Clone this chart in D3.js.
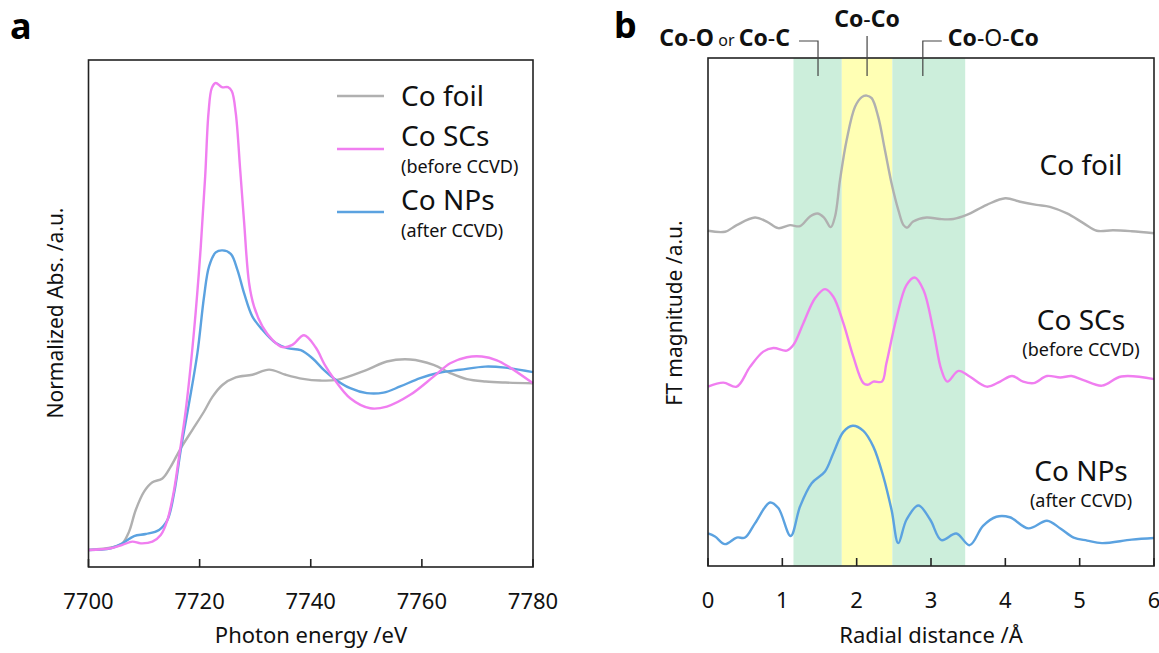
<!DOCTYPE html>
<html>
<head>
<meta charset="utf-8">
<script src="https://cdn.jsdelivr.net/npm/d3@7"></script>
<style>
  body { margin: 0; background: #fff; }
  svg { font-family: "Noto Sans", sans-serif; }
</style>
</head>
<body>
<script>
// ---- panel a : XANES (energy eV, normalized absorption) ----
const foilXanes = [
  [7700, 0.0], [7704.3, 0.016], [7706.1, 0.039], [7707.3, 0.108], [7708.5, 0.235],
  [7710.0, 0.343], [7711.5, 0.398], [7713.3, 0.42], [7714.8, 0.49], [7716.6, 0.598],
  [7718.7, 0.706], [7720.8, 0.814], [7722.3, 0.90], [7724.1, 0.97], [7726.5, 1.014],
  [7729.5, 1.03], [7732.5, 1.06], [7735.5, 1.03], [7738.6, 1.006], [7741.7, 0.996],
  [7744.7, 1.0], [7750.1, 1.059], [7753.7, 1.108], [7757.9, 1.12], [7762.1, 1.088],
  [7765.1, 1.04], [7768.1, 1.004], [7771.5, 0.99], [7775, 0.984], [7780, 0.98]
];
const scXanes = [
  [7700, 0.0], [7704, 0.01], [7706.1, 0.03], [7707.9, 0.049], [7709.4, 0.039],
  [7711.5, 0.049], [7713.0, 0.088], [7714.2, 0.176], [7715.4, 0.353], [7716.3, 0.549],
  [7717.5, 0.82], [7719.0, 1.29], [7720.2, 1.78], [7721.0, 2.196], [7721.6, 2.569],
  [7722.2, 2.716], [7722.9, 2.745], [7724.0, 2.72], [7725.1, 2.72], [7725.8, 2.696],
  [7726.5, 2.569], [7727.3, 2.235], [7728.0, 1.93], [7728.9, 1.569], [7729.8, 1.43],
  [7731.3, 1.314], [7733.1, 1.235], [7734.9, 1.192], [7736.7, 1.206], [7738.8, 1.262],
  [7740.9, 1.19], [7742.5, 1.09], [7744.1, 1.01], [7747.1, 0.892], [7750.7, 0.833],
  [7753.7, 0.843], [7757.9, 0.912], [7762.1, 1.019], [7765.1, 1.098], [7768.1, 1.133],
  [7770.8, 1.137], [7773.5, 1.115], [7775.6, 1.078], [7780, 0.98]
];
const npXanes = [
  [7700, 0.0], [7704, 0.01], [7706.1, 0.039], [7708.2, 0.082], [7710.3, 0.094],
  [7712.7, 0.118], [7714.2, 0.176], [7715.4, 0.333], [7716.6, 0.588], [7718.1, 0.863],
  [7719.6, 1.157], [7720.8, 1.49], [7721.7, 1.667], [7722.9, 1.749], [7724.1, 1.761],
  [7725.6, 1.741], [7726.8, 1.647], [7728.0, 1.51], [7729.5, 1.372], [7731.3, 1.294],
  [7733.7, 1.216], [7735.8, 1.186], [7738.2, 1.175], [7740.3, 1.127], [7742.3, 1.06],
  [7744.1, 1.01], [7747.1, 0.951], [7750.1, 0.922], [7753.1, 0.925], [7756.1, 0.961],
  [7759.7, 1.01], [7763.3, 1.043], [7766.9, 1.059], [7771.4, 1.078], [7775, 1.072],
  [7780, 1.045]
];
const xanesTicks = [7700, 7720, 7740, 7760, 7780];
const legendNames = ["Co foil", "Co SCs", "Co NPs"];
const legendNotes = ["", "(before CCVD)", "(after CCVD)"];

// ---- panel b : FT-EXAFS (radial distance A, stacked magnitude) ----
const foilFt = [
  [0, 6.60], [0.23, 6.58], [0.386, 6.71], [0.632, 6.86], [0.79, 6.78], [0.946, 6.65],
  [1.103, 6.71], [1.238, 6.69], [1.372, 6.88], [1.471, 6.94], [1.561, 6.86], [1.651, 6.67],
  [1.709, 6.88], [1.776, 7.60], [1.866, 8.39], [1.978, 9.04], [2.068, 9.23], [2.135, 9.26],
  [2.202, 9.21], [2.29, 8.84], [2.38, 8.19], [2.47, 7.53], [2.56, 7.01], [2.63, 6.71],
  [2.68, 6.66], [2.76, 6.78], [2.94, 6.86], [3.12, 6.83], [3.30, 6.83], [3.48, 6.91],
  [3.75, 7.11], [4.0, 7.24], [4.2, 7.17], [4.42, 7.11], [4.6, 7.07], [4.83, 6.94],
  [5.05, 6.75], [5.23, 6.60], [5.45, 6.61], [5.7, 6.59], [6.0, 6.55]
];
const scFt = [
  [0, 3.53], [0.206, 3.61], [0.386, 3.53], [0.565, 3.92], [0.744, 4.22], [0.879, 4.29],
  [1.059, 4.24], [1.148, 4.35], [1.283, 4.78], [1.44, 5.27], [1.574, 5.45], [1.686, 5.30],
  [1.821, 4.78], [1.955, 4.12], [2.09, 3.60], [2.157, 3.57], [2.224, 3.63], [2.34, 3.63],
  [2.40, 3.99], [2.54, 4.91], [2.67, 5.53], [2.78, 5.68], [2.90, 5.43], [3.03, 4.65],
  [3.14, 3.86], [3.22, 3.63], [3.37, 3.84], [3.52, 3.73], [3.75, 3.53], [3.93, 3.63],
  [4.09, 3.74], [4.24, 3.63], [4.38, 3.60], [4.56, 3.74], [4.74, 3.71], [4.89, 3.74],
  [5.05, 3.66], [5.3, 3.55], [5.56, 3.73], [6.0, 3.68]
];
const npFt = [
  [0, 0.64], [0.094, 0.58], [0.229, 0.43], [0.386, 0.56], [0.498, 0.56], [0.632, 0.84],
  [0.834, 1.25], [0.946, 1.14], [1.112, 0.59], [1.238, 1.17], [1.395, 1.63], [1.574, 1.86],
  [1.686, 2.22], [1.821, 2.64], [1.947, 2.76], [2.09, 2.66], [2.224, 2.35], [2.359, 1.76],
  [2.47, 1.10], [2.56, 0.45], [2.67, 0.91], [2.83, 1.19], [2.99, 0.91], [3.14, 0.51],
  [3.34, 0.64], [3.52, 0.41], [3.70, 0.79], [3.88, 0.97], [4.06, 0.96], [4.31, 0.74],
  [4.56, 0.89], [4.74, 0.74], [4.92, 0.56], [5.10, 0.50], [5.30, 0.45], [5.7, 0.52],
  [6.0, 0.55]
];
const ftTicks = [0, 1, 2, 3, 4, 5, 6];
const bandEdges = [1.15, 1.8, 2.48, 3.46];
const bandColors = ["#cceedb", "#ffffb4", "#cceedb"];
const ftLabels = [
  { name: "Co foil", note: "", y: 175 },
  { name: "Co SCs", note: "(before CCVD)", y: 330 },
  { name: "Co NPs", note: "(after CCVD)", y: 481 }
];

const colors = ["#b0b0b0", "#f07ef0", "#5ba2e0"];

const width = 1159, height = 653;
const svg = d3.select("body").append("svg")
  .attr("width", width)
  .attr("height", height);

function drawFrame(g, x, y, ticks) {
  const [x0, x1] = x.range();
  const [y0, y1] = y.range();
  g.append("rect")
    .attr("x", x0).attr("y", y1)
    .attr("width", x1 - x0).attr("height", y0 - y1)
    .attr("fill", "none").attr("stroke", "#222").attr("stroke-width", 1.6);
  g.selectAll(".tick")
    .data(ticks)
    .enter().append("line")
    .attr("x1", d => x(d)).attr("x2", d => x(d))
    .attr("y1", y0).attr("y2", y0 - 8)
    .attr("stroke", "#222").attr("stroke-width", 1.6);
  g.selectAll(".ticklabel")
    .data(ticks)
    .enter().append("text")
    .attr("x", d => x(d)).attr("y", y0 + 42)
    .attr("text-anchor", "middle")
    .attr("font-size", 22)
    .attr("fill", "#111")
    .text(d => d);
}

const line = (x, y) => d3.line()
  .x(d => x(d[0])).y(d => y(d[1]))
  .curve(d3.curveCatmullRom.alpha(0.5));

// ================= panel a =================
const xA = d3.scaleLinear().domain([7700, 7780]).range([88.5, 533]);
const yA = d3.scaleLinear().domain([-0.1, 2.88]).range([567, 60]);
const gA = svg.append("g");

[foilXanes, npXanes, scXanes].forEach((s, i) => {
  const c = [colors[0], colors[2], colors[1]][i];
  gA.append("path").datum(s)
    .attr("d", line(xA, yA))
    .attr("fill", "none").attr("stroke", c).attr("stroke-width", 2.4);
});
drawFrame(gA, xA, yA, xanesTicks);

gA.append("text").attr("x", 311).attr("y", 643)
  .attr("text-anchor", "middle").attr("font-size", 22).attr("fill", "#111")
  .text("Photon energy /eV");
gA.append("text")
  .attr("transform", "translate(63,313) rotate(-90)")
  .attr("text-anchor", "middle").attr("font-size", 21).attr("fill", "#111")
  .text("Normalized Abs. /a.u.");
gA.append("text").attr("x", 10).attr("y", 39)
  .attr("font-size", 36).attr("font-weight", "bold").text("a");

// legend: swatch line, name, optional note underneath
const legendY = [96, 149, 212];
const legendNameY = [106, 146, 210];
legendNames.forEach((n, i) => {
  gA.append("line")
    .attr("x1", 337).attr("x2", 384)
    .attr("y1", legendY[i]).attr("y2", legendY[i])
    .attr("stroke", colors[i]).attr("stroke-width", 2.4);
  gA.append("text").attr("x", 401).attr("y", legendNameY[i])
    .attr("font-size", 28).attr("fill", "#111").text(n);
  if (legendNotes[i]) {
    gA.append("text").attr("x", 401).attr("y", legendNameY[i] + 27)
      .attr("font-size", 18).attr("fill", "#111").text(legendNotes[i]);
  }
});

// ================= panel b =================
const xB = d3.scaleLinear().domain([0, 6]).range([708, 1154]);
const yB = d3.scaleLinear().domain([0, 10]).range([566, 58]);
const gB = svg.append("g");

gB.selectAll(".band")
  .data(bandColors)
  .enter().append("rect")
  .attr("x", (d, i) => xB(bandEdges[i]))
  .attr("width", (d, i) => xB(bandEdges[i + 1]) - xB(bandEdges[i]))
  .attr("y", yB(10)).attr("height", yB(0) - yB(10))
  .attr("fill", d => d);

[foilFt, scFt, npFt].forEach((s, i) => {
  gB.append("path").datum(s)
    .attr("d", line(xB, yB))
    .attr("fill", "none").attr("stroke", colors[i]).attr("stroke-width", 2.4);
});
drawFrame(gB, xB, yB, ftTicks);

gB.append("text").attr("x", 931).attr("y", 643)
  .attr("text-anchor", "middle").attr("font-size", 22).attr("fill", "#111")
  .text("Radial distance /Å");
gB.append("text")
  .attr("transform", "translate(682,313) rotate(-90)")
  .attr("text-anchor", "middle").attr("font-size", 21).attr("fill", "#111")
  .text("FT magnitude /a.u.");
gB.append("text").attr("x", 614).attr("y", 38)
  .attr("font-size", 36).attr("font-weight", "bold").text("b");

ftLabels.forEach(l => {
  gB.append("text").attr("x", 1081).attr("y", l.y)
    .attr("text-anchor", "middle").attr("font-size", 28).attr("fill", "#111")
    .text(l.name);
  if (l.note) {
    gB.append("text").attr("x", 1081).attr("y", l.y + 26)
      .attr("text-anchor", "middle").attr("font-size", 18).attr("fill", "#111")
      .text(l.note);
  }
});

// bond annotations above panel b
const annot = gB.append("g").attr("stroke", "#444").attr("stroke-width", 1.2).attr("fill", "none");
annot.append("path").attr("d", `M${xB(1.48) - 19},41H${xB(1.48)}V76`);
annot.append("path").attr("d", `M${xB(2.14)},36V76`);
annot.append("path").attr("d", `M${xB(2.89) + 19},41H${xB(2.89)}V76`);

function bondLabel(x, y, anchor, parts) {
  const t = gB.append("text").attr("x", x).attr("y", y)
    .attr("text-anchor", anchor).attr("fill", "#111");
  parts.forEach(p => {
    t.append("tspan")
      .attr("font-size", p[2] || 23)
      .attr("font-weight", p[1] ? "bold" : "normal")
      .text(p[0]);
  });
}
bondLabel(xB(1.48) - 28, 46, "end",
  [["Co", 1], ["-", 0], ["O", 1], [" or ", 0, 16], ["Co", 1], ["-", 0], ["C", 1]]);
bondLabel(xB(2.14), 27, "middle", [["Co", 1], ["-", 0], ["Co", 1]]);
bondLabel(xB(2.89) + 25, 46, "start", [["Co", 1], ["-O-", 0], ["Co", 1]]);
</script>
</body>
</html>
